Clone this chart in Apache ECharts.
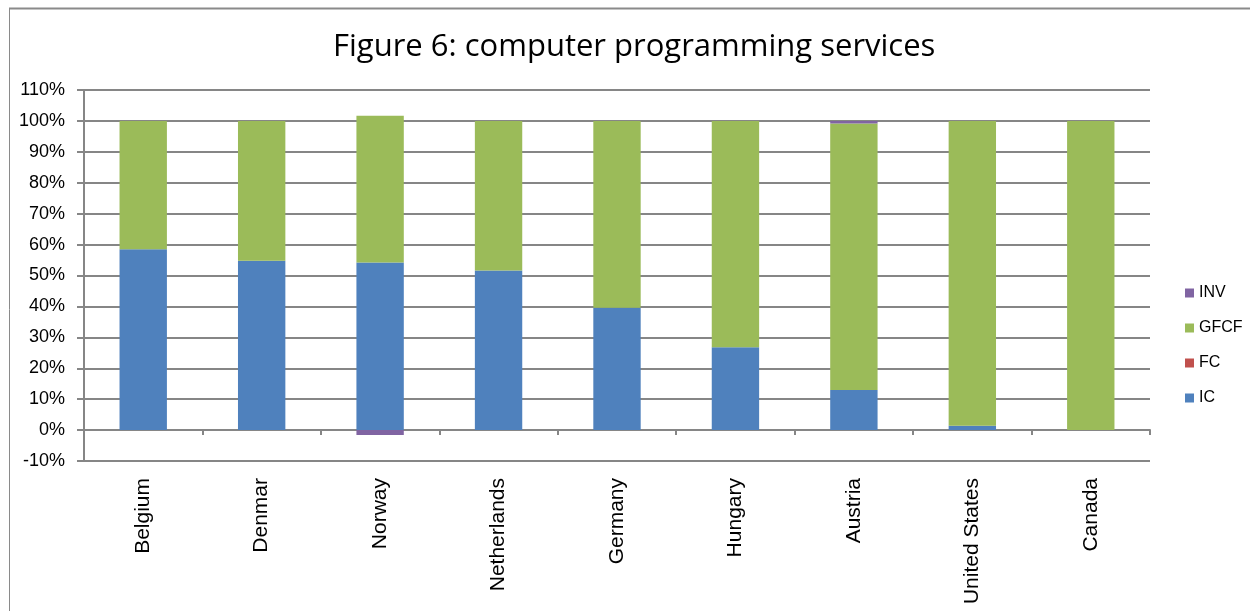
<!DOCTYPE html>
<html><head><meta charset="utf-8">
<script src="https://cdn.jsdelivr.net/npm/echarts@6/dist/echarts.min.js"></script>
<style>html,body{margin:0;padding:0;background:#fff}#c{width:1250px;height:611px}</style>
</head><body><div id="c"></div>
<script>
const categories = ['Belgium','Denmar','Norway','Netherlands','Germany','Hungary','Austria','United States','Canada'];
const IC   = [58.5, 54.8, 54.2, 51.6, 39.6, 26.8, 13.0, 1.4, 0];
const FC   = [0, 0, 0, 0, 0, 0, 0, 0, 0];
const GFCF = [41.5, 45.2, 47.5, 48.4, 60.4, 73.2, 86.2, 98.6, 100];
const INV  = [0, 0, -1.6, 0, 0, 0, 0.8, 0, 0];
const yTicks = {min: -10, max: 110, step: 10};
const title = 'Figure 6: computer programming services';

const font = 'Liberation Sans, Arial, sans-serif';
const chart = echarts.init(document.getElementById('c'), null, {renderer: 'canvas'});
function s(name, data, color) {
  return {name, type: 'bar', stack: 'total', data, barWidth: '40%',
    itemStyle: {color}, emphasis: {disabled: true}};
}
chart.setOption({
  animation: false,
  title: {text: title, left: 328, top: 27,
    textStyle: {fontFamily: 'Open Sans, sans-serif', fontSize: 31, fontWeight: 'normal', color: '#000'}},
  graphic: [
    {type: 'line', shape: {x1: 9, y1: 8.5, x2: 1250, y2: 8.5}, style: {stroke: '#8a8a8a', lineWidth: 2}, silent: true},
    {type: 'line', shape: {x1: 9.5, y1: 8, x2: 9.5, y2: 611}, style: {stroke: '#8a8a8a', lineWidth: 1}, silent: true}
  ],
  legend: {data: ['INV','GFCF','FC','IC'], orient: 'vertical', left: 1180, top: 280,
    itemWidth: 9, itemHeight: 9, itemGap: 19, icon: 'rect',
    textStyle: {fontFamily: font, fontSize: 16, color: '#000'}},
  grid: {left: 84, right: 100, top: 90, bottom: 150, outerBoundsMode: 'none', containLabel: false},
  xAxis: {type: 'category', data: categories,
    axisLine: {onZero: true, lineStyle: {color: '#868686', width: 2}},
    axisTick: {show: true, length: 5, lineStyle: {color: '#868686', width: 2}},
    axisLabel: {rotate: 90, margin: 17, fontFamily: font, fontSize: 21, color: '#000'}},
  yAxis: {type: 'value', min: yTicks.min, max: yTicks.max, interval: yTicks.step,
    axisLine: {show: true, lineStyle: {color: '#868686', width: 2}},
    axisTick: {show: true, inside: false, length: 7, lineStyle: {color: '#868686', width: 2}},
    splitLine: {lineStyle: {color: '#868686', width: 2}},
    axisLabel: {formatter: v => Math.round(v) + '%', margin: 19, fontFamily: font, fontSize: 18, color: '#000'}},
  series: [s('IC', IC, '#4F81BD'), s('FC', FC, '#C0504D'), s('GFCF', GFCF, '#9BBB59'), s('INV', INV, '#8064A2')]
});
</script></body></html>
